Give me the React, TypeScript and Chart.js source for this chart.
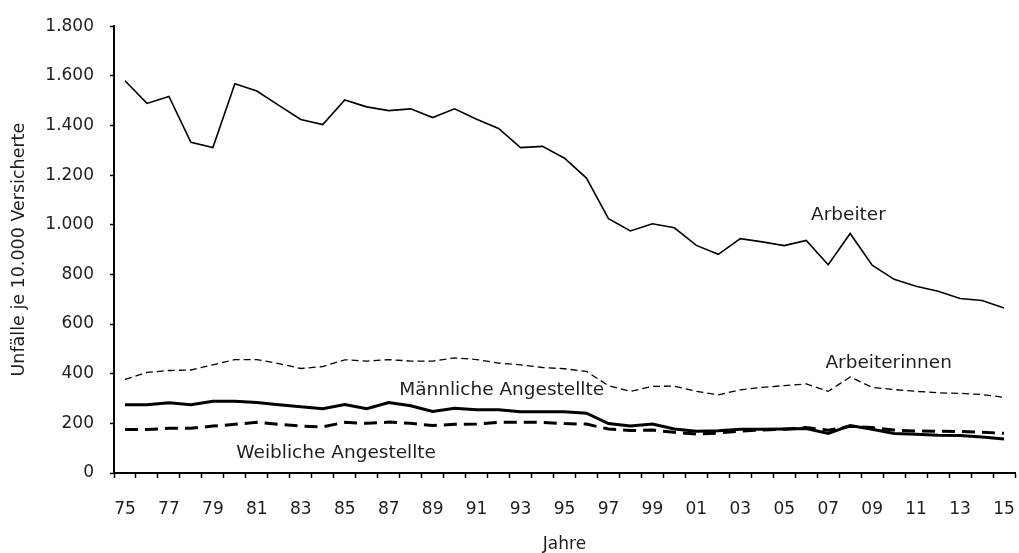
import React, { useEffect, useRef } from "react";
import { Chart, registerables } from "chart.js";

Chart.register(...registerables);

const years = [
  "75", "76", "77", "78", "79", "80", "81", "82", "83", "84",
  "85", "86", "87", "88", "89", "90", "91", "92", "93", "94",
  "95", "96", "97", "98", "99", "00", "01", "02", "03", "04",
  "05", "06", "07", "08", "09", "10", "11", "12", "13", "14", "15",
];

const arbeiter = [
  1580, 1489, 1517, 1332, 1311, 1568, 1539, 1481, 1424, 1404,
  1503, 1475, 1460, 1467, 1432, 1467, 1425, 1388, 1311, 1316,
  1268, 1188, 1025, 975, 1004, 988, 917, 881, 944, 931,
  916, 937, 839, 965, 837, 780, 752, 732, 703, 695, 665,
];

const arbeiterinnen = [
  377, 405, 413, 415, 436, 457, 457, 441, 421, 429,
  456, 451, 457, 451, 451, 464, 457, 443, 436, 425,
  420, 409, 352, 329, 349, 350, 329, 315, 335, 345,
  352, 359, 329, 387, 345, 336, 329, 323, 321, 316, 305,
];

const maennlicheAngestellte = [
  275, 275, 283, 275, 289, 289, 284, 275, 267, 259,
  276, 259, 284, 271, 248, 261, 255, 255, 247, 247,
  247, 241, 199, 189, 197, 177, 168, 170, 176, 176,
  177, 179, 159, 191, 176, 159, 156, 152, 151, 145, 137,
];

const weiblicheAngestellte = [
  175, 175, 180, 180, 189, 196, 204, 196, 189, 186,
  204, 200, 205, 200, 191, 196, 197, 204, 205, 204,
  199, 197, 177, 171, 173, 164, 157, 161, 169, 173,
  176, 183, 172, 188, 183, 173, 169, 168, 167, 164, 160,
];

// Series labels placed in data coordinates (category position, value)
const seriesLabels = [
  { text: "Arbeiter", pos: 32.92, value: 1037 },
  { text: "Arbeiterinnen", pos: 34.75, value: 442 },
  { text: "Männliche Angestellte", pos: 17.14, value: 332 },
  { text: "Weibliche Angestellte", pos: 9.61, value: 80 },
];

const yTitle = "Unfälle je 10.000 Versicherte";
const xTitle = "Jahre";

const FONT = "'DejaVu Sans', sans-serif";
const TEXT = "#1e1e1e";

function formatDE(v: number): string {
  const s = String(Math.round(v));
  return s.replace(/\B(?=(\d{3})+(?!\d))/g, ".");
}

const labelPlugin = {
  id: "seriesLabels",
  afterDatasetsDraw(chart: any) {
    const { ctx, scales } = chart;
    const xs = scales.x;
    const ys = scales.y;
    ctx.save();
    ctx.font = `18.5px ${FONT}`;
    ctx.fillStyle = TEXT;
    ctx.textAlign = "center";
    ctx.textBaseline = "middle";
    for (const l of seriesLabels) {
      ctx.fillText(l.text, xs.getPixelForValue(l.pos), ys.getPixelForValue(l.value));
    }
    ctx.restore();
  },
};

export default function App() {
  const ref = useRef<HTMLCanvasElement | null>(null);

  useEffect(() => {
    if (!ref.current) return;
    const chart = new Chart(ref.current, {
      type: "line",
      data: {
        labels: years,
        datasets: [
          {
            label: "Arbeiter",
            data: arbeiter,
            borderColor: "#000",
            borderWidth: 1.6,
            pointRadius: 0,
            tension: 0,
          },
          {
            label: "Arbeiterinnen",
            data: arbeiterinnen,
            borderColor: "#000",
            borderWidth: 1.3,
            borderDash: [7, 4],
            pointRadius: 0,
            tension: 0,
          },
          {
            label: "Männliche Angestellte",
            data: maennlicheAngestellte,
            borderColor: "#000",
            borderWidth: 3,
            pointRadius: 0,
            tension: 0,
          },
          {
            label: "Weibliche Angestellte",
            data: weiblicheAngestellte,
            borderColor: "#000",
            borderWidth: 3,
            borderDash: [13, 7],
            pointRadius: 0,
            tension: 0,
          },
        ],
      },
      options: {
        animation: false,
        responsive: false,
        maintainAspectRatio: false,
        layout: { padding: { top: 23, right: 4, left: 0, bottom: 0 } },
        plugins: {
          legend: { display: false },
          tooltip: { enabled: false },
        },
        scales: {
          x: {
            type: "category",
            offset: true,
            grid: {
              offset: true,
              drawOnChartArea: false,
              drawTicks: true,
              tickLength: 5,
              tickColor: "#000",
              tickWidth: 1.5,
            },
            border: { color: "#000", width: 2 },
            ticks: {
              autoSkip: false,
              maxRotation: 0,
              padding: 21,
              color: TEXT,
              font: { family: FONT, size: 17 },
              callback: (_v: any, i: number) => (i % 2 === 0 ? years[i] : ""),
            },
            title: {
              display: true,
              text: xTitle,
              color: TEXT,
              font: { family: FONT, size: 17 },
              padding: { top: 13, bottom: -2 },
            },
            afterFit: (s: any) => {
              s.height = 80;
              s.paddingLeft = 0;
              s.paddingRight = 0;
            },
          },
          y: {
            min: 0,
            max: 1800,
            ticks: {
              stepSize: 200,
              padding: 16,
              color: TEXT,
              font: { family: FONT, size: 17 },
              callback: (v: any) => formatDE(Number(v)),
            },
            grid: {
              drawOnChartArea: false,
              drawTicks: true,
              tickLength: 4,
              tickColor: "#000",
              tickWidth: 1.5,
            },
            border: { color: "#000", width: 2 },
            title: {
              display: true,
              text: yTitle,
              color: TEXT,
              font: { family: FONT, size: 17.5 },
              padding: { top: 9, bottom: 0 },
            },
            afterFit: (s: any) => {
              s.width = 114;
            },
          },
        },
      },
      plugins: [labelPlugin],
    });
    return () => chart.destroy();
  }, []);

  return (
    <div style={{ position: "absolute", left: 0, top: 0, width: 1019, height: 553, background: "#fff" }}>
      <canvas ref={ref} width={1019} height={553} style={{ width: 1019, height: 553, display: "block" }} />
    </div>
  );
}
